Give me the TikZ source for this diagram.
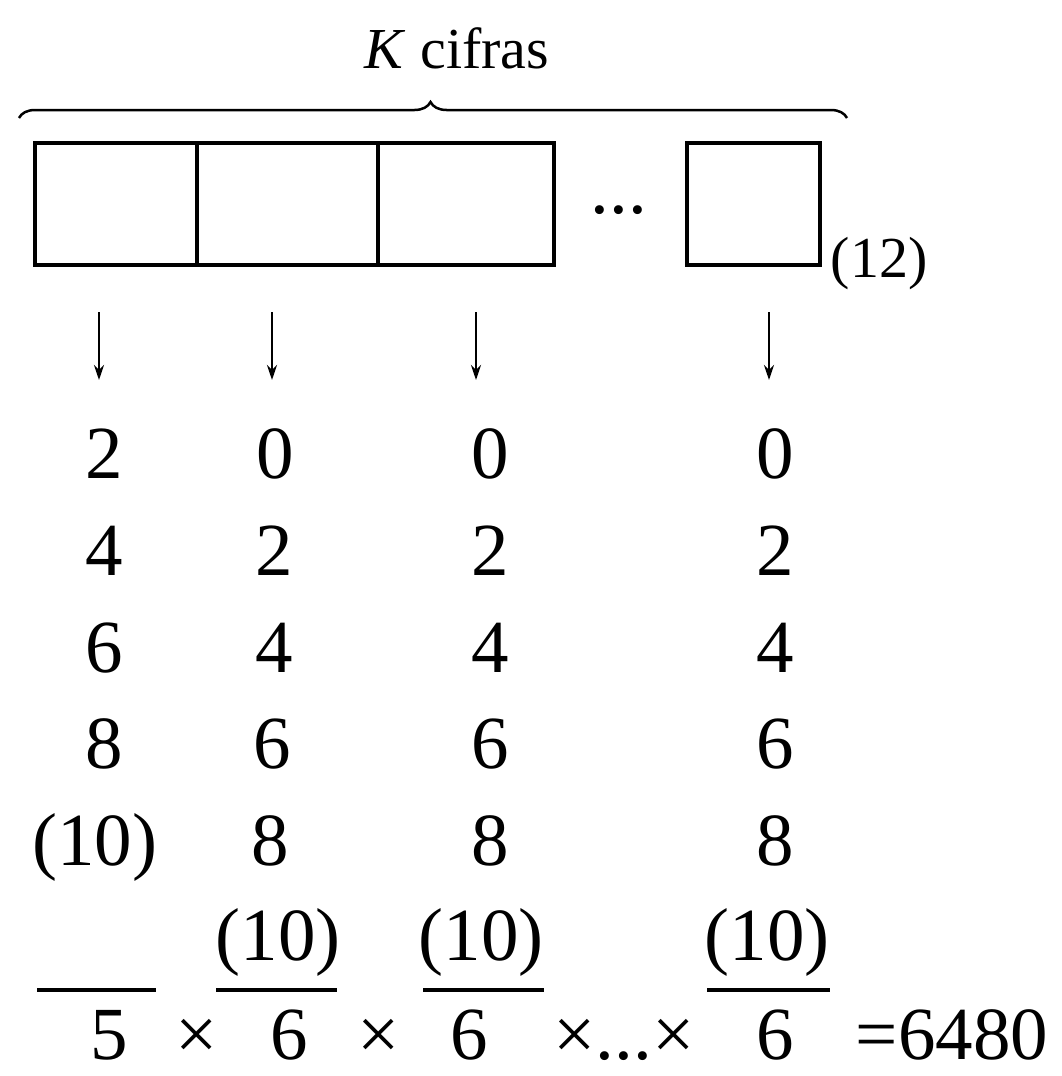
\documentclass[tikz,border=0pt]{standalone}
\usepackage{fontspec}
\setmainfont{Liberation Serif}
\usetikzlibrary{decorations.pathreplacing,arrows.meta}
\begin{document}
\begin{tikzpicture}[x=1pt,y=-1pt,
  cell/.style={draw,line width=3.5pt,inner sep=0pt,minimum height=122pt},
  dig/.style={inner sep=0pt,anchor=base,font=\fontsize{75}{80}\selectfont},
  small/.style={inner sep=0pt,anchor=base,font=\fontsize{58}{64}\selectfont},
  arr/.style={line width=2.6pt,-{Stealth[length=15pt,width=10pt]}},
  bar/.style={line width=4pt}]
\useasboundingbox (0,0) rectangle (1062,1076);
% title and brace
\node[small] (title) at (457,68) {\textit{K} cifras};
\coordinate (brL) at (19,118);
\coordinate (brR) at (847,118);
\draw[line width=2.5pt,decorate,decoration={brace,amplitude=16pt,aspect=0.497}] (brL) -- (brR);
% boxes
\node[cell,minimum width=162pt] (b1) at (116,204) {};
\node[cell,minimum width=181pt] (b2) at (287.5,204) {};
\node[cell,minimum width=176pt] (b3) at (466,204) {};
\node[cell,minimum width=133pt] (b4) at (753.5,204) {};
\node[dig] (dots) at (619,213) {...};
\node[small] (base) at (879,277) {(12)};
% arrows
\foreach \i/\x in {1/99,2/272,3/476,4/769}{
  \coordinate (s\i) at (\x,312);
  \coordinate (e\i) at (\x,380);
  \draw[arr] (s\i) -- (e\i);
}
% digit rows
\node[dig] (r1c1) at (104,478) {2};
\node[dig] (r1c2) at (275,478) {0};
\node[dig] (r1c3) at (490,478) {0};
\node[dig] (r1c4) at (775,478) {0};
\node[dig] (r2c1) at (104,575) {4};
\node[dig] (r2c2) at (274,575) {2};
\node[dig] (r2c3) at (490,575) {2};
\node[dig] (r2c4) at (775,575) {2};
\node[dig] (r3c1) at (104,672) {6};
\node[dig] (r3c2) at (274,672) {4};
\node[dig] (r3c3) at (490,672) {4};
\node[dig] (r3c4) at (775,672) {4};
\node[dig] (r4c1) at (104,768) {8};
\node[dig] (r4c2) at (272,768) {6};
\node[dig] (r4c3) at (490,768) {6};
\node[dig] (r4c4) at (775,768) {6};
\node[dig] (r5c1) at (95,865) {(10)};
\node[dig] (r5c2) at (270,865) {8};
\node[dig] (r5c3) at (490,865) {8};
\node[dig] (r5c4) at (775,865) {8};
\node[dig] (r6c2) at (278,960) {(10)};
\node[dig] (r6c3) at (481,960) {(10)};
\node[dig] (r6c4) at (767,960) {(10)};
% bars
\foreach \i/\a/\b in {1/37/156,2/216/337,3/423/544,4/707/830}{
  \coordinate (l\i) at (\a,990);
  \coordinate (m\i) at (\b,990);
  \draw[bar] (l\i) -- (m\i);
}
% product
\node[dig] (p1) at (109,1059) {5};
\node[dig] (x1) at (197,1059) {×};
\node[dig] (p2) at (289,1059) {6};
\node[dig] (x2) at (379,1059) {×};
\node[dig] (p3) at (469,1059) {6};
\node[dig] (x3) at (624,1059) {×...×};
\node[dig] (p4) at (775,1059) {6};
\node[dig] (res) at (952,1059) {=6480};
\end{tikzpicture}
\end{document}
